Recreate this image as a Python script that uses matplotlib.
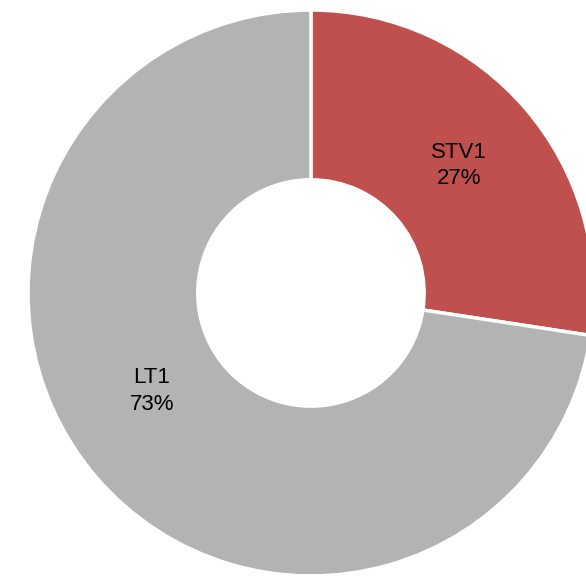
import matplotlib
matplotlib.use('Agg')
import numpy as np
from matplotlib import pyplot as plt

# data
labels = ['STV1', 'LT1']
values = [27.4, 72.6]
colors = ['#C0504D', '#B3B3B3']

fig = plt.figure(figsize=(5.86, 5.78), dpi=100)
ax = fig.add_axes([0, 0, 1, 1])

wedges, texts = ax.pie(values, colors=colors, startangle=90, counterclock=False,
                       radius=1.0,
                       wedgeprops=dict(width=0.6, edgecolor='white', linewidth=2.5))

# labels in the middle of the ring
total = sum(values)
for w, lab, v in zip(wedges, labels, values):
    ang = (w.theta1 + w.theta2) / 2
    r = 0.69
    if lab == 'LT1':
        # excel puts this one a bit higher
        ang -= 9
        r = 0.66
    ang = np.deg2rad(ang)
    ax.text(r * np.cos(ang), r * np.sin(ang), '%s\n%d%%' % (lab, round(100 * v / total)),
            ha='center', va='center', fontsize=16, family='Liberation Sans',
            linespacing=1.35, color='black')

ax.set_xlim(-1.099, 0.972)
ax.set_ylim(-1.007, 1.035)
ax.set_aspect('equal')
ax.axis('off')

plt.savefig('out.png', dpi=100)
